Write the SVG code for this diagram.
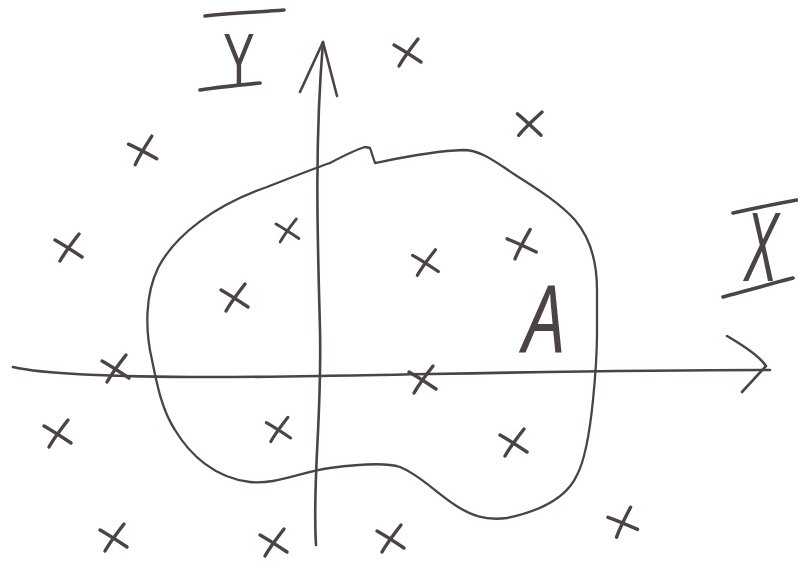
<svg xmlns="http://www.w3.org/2000/svg" width="798" height="566" viewBox="0 0 798 566">
<style>
.ink{fill:none;stroke:#4b4346;stroke-linecap:round;stroke-linejoin:round}
.ax{stroke-width:2.6}
.bl{stroke-width:2.3}
.cr{stroke-width:3.4}
.bar{stroke-width:3.6}
.lbl{font-family:"Open Sans","Liberation Sans",sans-serif;font-weight:400;fill:#4b4346}
</style>
<defs>
<path id="x" d="M -13,-7 C -4,-2 5,4 14,10 M 11,-13 C 4,-4 -3,5 -8,14"/>
</defs>
<rect width="798" height="566" fill="#ffffff"/>
<g id="connectors">
<path class="ink ax" d="M 316,545 C 312,480 322,420 320,330 C 318,250 314,150 323,42"/>
<path class="ink ax" d="M 300,92 L 323,42 L 337,96"/>
<path class="ink ax" d="M 13,367 C 60,378 200,378 320,376 C 450,374 600,370 770,370"/>
<path class="ink ax" d="M 727,336 Q 758,354 766,366 L 742,392"/>
</g>
<g id="region-A">
<path class="ink bl" d="M 330,163 C 345,155 355,150 365,147 L 370,148 L 375,163 C 390,160 430,151 463,150 C 478,150 490,158 505,168 C 525,182 555,198 575,220 C 592,240 597,265 597,290 L 597,333 C 597,360 595,380 593,400 C 590,430 585,460 577,475 C 568,495 545,510 507,518 C 485,521 470,515 455,505 C 435,492 420,475 400,467 C 385,462 360,464 330,468 C 300,472 275,485 250,482 C 215,478 190,455 175,430 C 162,410 157,385 152,360 C 145,330 145,295 158,268 C 175,235 215,205 267,187 C 290,178 310,170 330,163"/>
<text class="lbl" x="0" y="0" font-size="94" font-style="italic" text-anchor="middle" transform="translate(544,352) scale(0.8,1)">A</text>
</g>
<g id="label-Y">
<path class="ink bar" d="M 205,16 C 230,13 260,12 284,10"/>
<text class="lbl" x="0" y="0" font-size="70" text-anchor="middle" transform="translate(239,84) scale(0.75,1)">Y</text>
<path class="ink bar" d="M 200,90 C 220,87 240,85 260,83"/>
</g>
<g id="label-X">
<path class="ink bar" d="M 733,213 C 755,208 775,204 797,200"/>
<text class="lbl" x="0" y="0" font-size="96" font-style="italic" text-anchor="middle" transform="translate(761,281) scale(0.6,1)">X</text>
<path class="ink bar" d="M 723,297 C 745,291 770,284 793,278"/>
</g>
<g id="points">
<use href="#x" class="ink cr" transform="translate(407,52)"/>
<use href="#x" class="ink cr" transform="translate(529,123) rotate(10)"/>
<use href="#x" class="ink cr" transform="translate(142,150) rotate(-5)"/>
<use href="#x" class="ink cr" transform="translate(68,247)"/>
<use href="#x" class="ink cr" transform="translate(287,230) scale(0.85)"/>
<use href="#x" class="ink cr" transform="translate(425,262) scale(0.95)"/>
<use href="#x" class="ink cr" transform="translate(521,244) rotate(-8)"/>
<use href="#x" class="ink cr" transform="translate(234,297)"/>
<use href="#x" class="ink cr" transform="translate(115,368)"/>
<use href="#x" class="ink cr" transform="translate(422,379)"/>
<use href="#x" class="ink cr" transform="translate(57,433)"/>
<use href="#x" class="ink cr" transform="translate(278,429) scale(0.9)"/>
<use href="#x" class="ink cr" transform="translate(513,442)"/>
<use href="#x" class="ink cr" transform="translate(113,537)"/>
<use href="#x" class="ink cr" transform="translate(273,542)"/>
<use href="#x" class="ink cr" transform="translate(390,538)"/>
<use href="#x" class="ink cr" transform="translate(622,522) rotate(-10)"/>
</g>
</svg>
